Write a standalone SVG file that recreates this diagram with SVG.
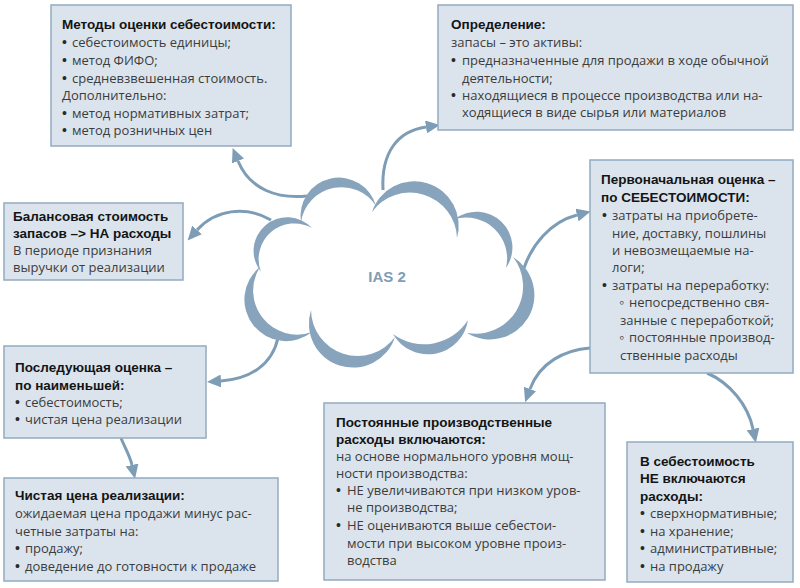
<svg xmlns="http://www.w3.org/2000/svg" width="800" height="588" viewBox="0 0 800 588">
<style>
.box{fill:#dbe4ed;stroke:#93abc0;stroke-width:1.5}
.t{font-family:"Open Sans","Liberation Sans",Arial,sans-serif;font-size:13px;fill:#3c3c3c}
.u{font-family:"Liberation Sans",Arial,sans-serif;font-size:14px;fill:#2a2a2a}
.b{font-family:"Liberation Sans",Arial,sans-serif;font-size:13.5px;font-weight:bold;fill:#141414}
.conn{fill:none;stroke:#7d9cb5;stroke-width:3}
.cres{fill:#87a4bc}
.lbl{font-family:"Liberation Sans",Arial,sans-serif;font-size:15px;font-weight:bold;fill:#7f9db5}
</style>
<defs>
<marker id="ah" markerUnits="userSpaceOnUse" markerWidth="14" markerHeight="13" refX="0" refY="6.5" orient="auto" viewBox="0 0 14 13">
<path d="M0,0 L14,6.5 L0,13 z" fill="#7d9cb5"/>
</marker>
</defs>
<rect width="800" height="588" fill="#ffffff"/>

<g id="connectors">
<path class="conn" marker-end="url(#ah)" d="M307,196 C278,199 250,190 238,161"/>
<path class="conn" marker-end="url(#ah)" d="M383,190 C381,152 398,131 426,127"/>
<path class="conn" marker-end="url(#ah)" d="M271,220 C245,205 215,210 197,230"/>
<path class="conn" marker-end="url(#ah)" d="M524,268 C532,245 550,222 577,215"/>
<path class="conn" marker-end="url(#ah)" d="M278,338 C272,365 250,379 221,381"/>
<path class="conn" marker-end="url(#ah)" d="M590,348 C565,350 540,362 530,389"/>
<path class="conn" marker-end="url(#ah)" d="M707,373 C730,383 748,405 753,429"/>
<path class="conn" marker-end="url(#ah)" d="M121,438 C125,448 130,456 132,465"/>
</g>

<g id="cloud">
<path class="cres" d="M301,222 A38.4,38.4 0 0 1 376,206 A41,41 0 0 0 301,222 Z"/>
<path class="cres" d="M372,212 A44.45,44.45 0 0 1 457,238 A47,47 0 0 0 372,212 Z"/>
<path class="cres" d="M455,219 A35.8,35.8 0 0 1 506,268 A41,41 0 0 0 455,219 Z"/>
<path class="cres" d="M513,257 A44.4,44.4 0 0 1 467,333 A47.5,47.5 0 0 0 513,257 Z"/>
<path class="cres" d="M468,320 A40.4,40.4 0 0 1 393,334 A52,52 0 0 0 468,320 Z"/>
<path class="cres" d="M395,337 A44.1,44.1 0 0 1 311,310 A46.5,46.5 0 0 0 395,337 Z"/>
<path class="cres" d="M312,332 A41.6,41.6 0 0 1 260,267 A44,44 0 0 0 312,332 Z"/>
<path class="cres" d="M261,272 A33.7,33.7 0 0 1 312,228 A35.8,35.8 0 0 0 261,272 Z"/>
<text class="lbl" x="387" y="282" text-anchor="middle">IAS 2</text>
</g>

<g id="node-methods">
<rect class="box" x="51" y="5" width="240" height="141"/>
<text class="b" x="62" y="29">Методы оценки себестоимости:</text>
<text class="u" x="62" y="47">•</text><text class="t" x="72" y="47">себестоимость единицы;</text>
<text class="u" x="62" y="65">•</text><text class="t" x="72" y="65">метод ФИФО;</text>
<text class="u" x="62" y="83">•</text><text class="t" x="72" y="83">средневзвешенная стоимость.</text>
<text class="t" x="62" y="100">Дополнительно:</text>
<text class="u" x="62" y="118">•</text><text class="t" x="72" y="118">метод нормативных затрат;</text>
<text class="u" x="62" y="135">•</text><text class="t" x="72" y="135">метод розничных цен</text>
</g>

<g id="node-definition">
<rect class="box" x="438" y="5" width="355" height="125"/>
<text class="b" x="451" y="29">Определение:</text>
<text class="t" x="451" y="47">запасы – это активы:</text>
<text class="u" x="451" y="65">•</text><text class="t" x="462" y="65">предназначенные для продажи в ходе обычной</text>
<text class="t" x="462" y="83">деятельности;</text>
<text class="u" x="451" y="100">•</text><text class="t" x="462" y="100">находящиеся в процессе производства или на-</text>
<text class="t" x="462" y="117">ходящиеся в виде сырья или материалов</text>
</g>

<g id="node-balance">
<rect class="box" x="4" y="203" width="179" height="77"/>
<text class="b" x="13" y="221">Балансовая стоимость</text>
<text class="b" x="13" y="238">запасов –&gt; НА расходы</text>
<text class="t" x="13" y="255">В периоде признания</text>
<text class="t" x="13" y="272">выручки от реализации</text>
</g>

<g id="node-initial">
<rect class="box" x="590" y="160" width="203" height="213"/>
<text class="b" x="601" y="184">Первоначальная оценка –</text>
<text class="b" x="601" y="202">по СЕБЕСТОИМОСТИ:</text>
<text class="u" x="602" y="220">•</text><text class="t" x="612" y="220">затраты на приобрете-</text>
<text class="t" x="612" y="238">ние, доставку, пошлины</text>
<text class="t" x="612" y="255">и невозмещаемые на-</text>
<text class="t" x="612" y="272">логи;</text>
<text class="u" x="602" y="290">•</text><text class="t" x="612" y="290">затраты на переработку:</text>
<text class="u" x="619" y="307">◦</text><text class="t" x="629" y="307">непосредственно свя-</text>
<text class="t" x="620" y="325">занные с переработкой;</text>
<text class="u" x="619" y="342">◦</text><text class="t" x="629" y="342">постоянные производ-</text>
<text class="t" x="620" y="360">ственные расходы</text>
</g>

<g id="node-subsequent">
<rect class="box" x="4" y="346" width="202" height="92"/>
<text class="b" x="15" y="372">Последующая оценка –</text>
<text class="b" x="15" y="390">по наименьшей:</text>
<text class="u" x="15" y="407">•</text><text class="t" x="25" y="407">себестоимость;</text>
<text class="u" x="15" y="424">•</text><text class="t" x="25" y="424">чистая цена реализации</text>
</g>

<g id="node-nrv">
<rect class="box" x="4" y="478" width="274" height="103"/>
<text class="b" x="15" y="500">Чистая цена реализации:</text>
<text class="t" x="15" y="518">ожидаемая цена продажи минус рас-</text>
<text class="t" x="15" y="536">четные затраты на:</text>
<text class="u" x="15" y="553">•</text><text class="t" x="25" y="553">продажу;</text>
<text class="u" x="15" y="571">•</text><text class="t" x="25" y="571">доведение до готовности к продаже</text>
</g>

<g id="node-fixed">
<rect class="box" x="324" y="403" width="281" height="177"/>
<text class="b" x="336" y="427">Постоянные производственные</text>
<text class="b" x="336" y="444">расходы включаются:</text>
<text class="t" x="336" y="461">на основе нормального уровня мощ-</text>
<text class="t" x="336" y="478">ности производства:</text>
<text class="u" x="336" y="495">•</text><text class="t" x="347" y="495">НЕ увеличиваются при низком уров-</text>
<text class="t" x="347" y="512">не производства;</text>
<text class="u" x="336" y="530">•</text><text class="t" x="347" y="530">НЕ оцениваются выше себестои-</text>
<text class="t" x="347" y="548">мости при высоком уровне произ-</text>
<text class="t" x="347" y="565">водства</text>
</g>

<g id="node-excluded">
<rect class="box" x="627" y="442" width="166" height="140"/>
<text class="b" x="640" y="466">В себестоимость</text>
<text class="b" x="640" y="483">НЕ включаются</text>
<text class="b" x="640" y="501">расходы:</text>
<text class="u" x="640" y="518">•</text><text class="t" x="650" y="518">сверхнормативные;</text>
<text class="u" x="640" y="536">•</text><text class="t" x="650" y="536">на хранение;</text>
<text class="u" x="640" y="553">•</text><text class="t" x="650" y="553">административные;</text>
<text class="u" x="640" y="571">•</text><text class="t" x="650" y="571">на продажу</text>
</g>
</svg>
